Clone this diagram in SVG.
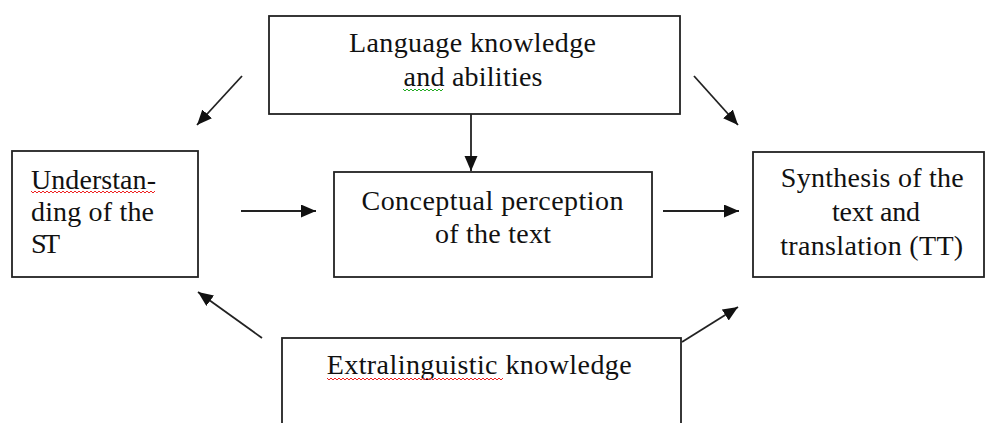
<svg xmlns="http://www.w3.org/2000/svg" width="986" height="423" viewBox="0 0 986 423">
<style>
.box{fill:#fff;stroke:#222;stroke-width:1.8}
.t{font-family:"Liberation Serif","Times New Roman",serif;font-size:28px;fill:#111}
.c{text-anchor:middle}
.ln{stroke:#222;stroke-width:1.8;fill:none}
.sq{fill:none;stroke-width:1}
</style>
<defs>
<marker id="ah" markerUnits="userSpaceOnUse" markerWidth="16" markerHeight="14" refX="15" refY="6.5" orient="auto">
<path d="M0,0 L15,6.5 L0,13 z" fill="#111"/>
</marker>
</defs>
<rect width="986" height="423" fill="#fff"/>
<g id="connectors">
<line class="ln" x1="471" y1="114" x2="471" y2="171" marker-end="url(#ah)"/>
<line class="ln" x1="241" y1="211" x2="316" y2="211" marker-end="url(#ah)"/>
<line class="ln" x1="663" y1="211" x2="739" y2="211" marker-end="url(#ah)"/>
<line class="ln" x1="242" y1="76" x2="197" y2="125" marker-end="url(#ah)"/>
<line class="ln" x1="694" y1="76" x2="738" y2="125" marker-end="url(#ah)"/>
<line class="ln" x1="262" y1="338" x2="198" y2="292" marker-end="url(#ah)"/>
<line class="ln" x1="682" y1="342" x2="738" y2="307" marker-end="url(#ah)"/>
</g>
<g id="language">
<rect class="box" x="269" y="16" width="411" height="98"/>
<text class="t c" x="472.5" y="52" textLength="247" lengthAdjust="spacing">Language knowledge</text>
<text class="t c" x="473" y="86" textLength="139" lengthAdjust="spacing">and abilities</text>
<path class="sq" stroke="#2a2" d="M403,89 l2,2 l2,-2 l2,2 l2,-2 l2,2 l2,-2 l2,2 l2,-2 l2,2 l2,-2 l2,2 l2,-2 l2,2 l2,-2 l2,2 l2,-2 l2,2 l2,-2 l2,2 l2,-2"/>
</g>
<g id="understanding">
<rect class="box" x="12" y="151" width="186" height="126"/>
<text class="t" x="31" y="189" textLength="125" lengthAdjust="spacing">Understan-</text>
<text class="t" x="31" y="221" textLength="123" lengthAdjust="spacing">ding of the</text>
<text class="t" x="31" y="253" textLength="29" lengthAdjust="spacing">ST</text>
<path class="sq" stroke="#e22" d="M31,191 l2,2 l2,-2 l2,2 l2,-2 l2,2 l2,-2 l2,2 l2,-2 l2,2 l2,-2 l2,2 l2,-2 l2,2 l2,-2 l2,2 l2,-2 l2,2 l2,-2 l2,2 l2,-2 l2,2 l2,-2 l2,2 l2,-2 l2,2 l2,-2 l2,2 l2,-2 l2,2 l2,-2 l2,2 l2,-2 l2,2 l2,-2 l2,2 l2,-2 l2,2 l2,-2 l2,2 l2,-2 l2,2 l2,-2 l2,2 l2,-2 l2,2 l2,-2 l2,2 l2,-2 l2,2 l2,-2 l2,2 l2,-2 l2,2 l2,-2 l2,2 l2,-2 l2,2 l2,-2 l2,2 l2,-2 l2,2 l2,-2"/>
</g>
<g id="conceptual">
<rect class="box" x="334" y="172" width="318" height="105"/>
<text class="t c" x="492.5" y="210" textLength="262" lengthAdjust="spacing">Conceptual perception</text>
<text class="t c" x="493" y="243" textLength="116" lengthAdjust="spacing">of the text</text>
</g>
<g id="synthesis">
<rect class="box" x="753" y="152" width="231" height="125"/>
<text class="t c" x="872.3" y="187" textLength="183" lengthAdjust="spacing">Synthesis of the</text>
<text class="t c" x="876" y="221" textLength="88" lengthAdjust="spacing">text and</text>
<text class="t c" x="871.7" y="255" textLength="183" lengthAdjust="spacing">translation (TT)</text>
</g>
<g id="extralinguistic">
<rect class="box" x="282" y="338" width="399" height="100"/>
<text class="t c" x="479.2" y="374" textLength="305" lengthAdjust="spacing">Extralinguistic knowledge</text>
<path class="sq" stroke="#e22" d="M327,378 l2,2 l2,-2 l2,2 l2,-2 l2,2 l2,-2 l2,2 l2,-2 l2,2 l2,-2 l2,2 l2,-2 l2,2 l2,-2 l2,2 l2,-2 l2,2 l2,-2 l2,2 l2,-2 l2,2 l2,-2 l2,2 l2,-2 l2,2 l2,-2 l2,2 l2,-2 l2,2 l2,-2 l2,2 l2,-2 l2,2 l2,-2 l2,2 l2,-2 l2,2 l2,-2 l2,2 l2,-2 l2,2 l2,-2 l2,2 l2,-2 l2,2 l2,-2 l2,2 l2,-2 l2,2 l2,-2 l2,2 l2,-2 l2,2 l2,-2 l2,2 l2,-2 l2,2 l2,-2 l2,2 l2,-2 l2,2 l2,-2 l2,2 l2,-2 l2,2 l2,-2 l2,2 l2,-2 l2,2 l2,-2 l2,2 l2,-2 l2,2 l2,-2 l2,2 l2,-2 l2,2 l2,-2 l2,2 l2,-2 l2,2 l2,-2 l2,2 l2,-2 l2,2 l2,-2 l2,2 l2,-2"/>
</g>
</svg>
